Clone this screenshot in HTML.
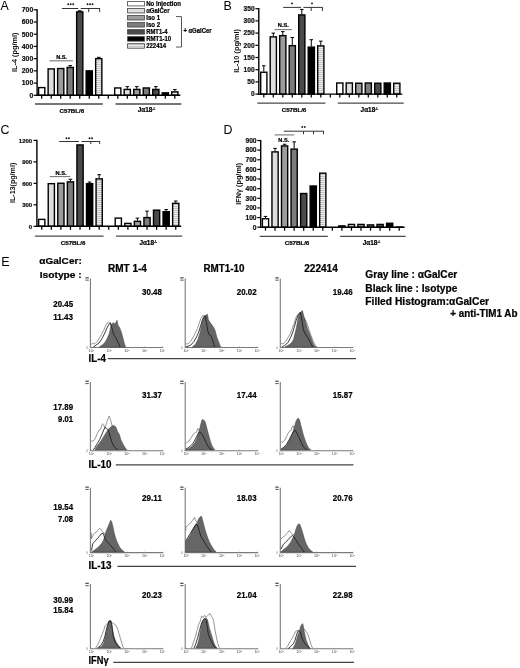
<!DOCTYPE html>
<html><head><meta charset="utf-8"><style>
html,body{margin:0;padding:0;background:#fff;width:520px;height:668px;overflow:hidden;}
svg{display:block;font-family:"Liberation Sans",sans-serif;will-change:transform;}
</style></head><body>
<svg width="520" height="668" viewBox="0 0 520 668">
<rect width="520" height="668" fill="#fff"/>
<defs><pattern id="stripe" width="4" height="2" patternUnits="userSpaceOnUse"><rect width="4" height="2" fill="#ececec"/><rect width="4" height="1" fill="#c4c4c4"/></pattern></defs>
<rect x="38.60" y="87.59" width="6.20" height="7.71" fill="#ffffff" stroke="#000" stroke-width="1.4"/>
<rect x="48.11" y="68.91" width="6.20" height="26.39" fill="#dedede" stroke="#000" stroke-width="1.4"/>
<rect x="57.62" y="68.54" width="6.20" height="26.76" fill="#9c9c9c" stroke="#000" stroke-width="1.4"/>
<line x1="70.23" y1="66.84" x2="70.23" y2="65.62" stroke="#000" stroke-width="1"/>
<line x1="68.43" y1="65.62" x2="72.03" y2="65.62" stroke="#000" stroke-width="1"/>
<rect x="67.13" y="67.44" width="6.20" height="27.86" fill="#7c7c7c" stroke="#000" stroke-width="1.4"/>
<line x1="79.74" y1="11.27" x2="79.74" y2="10.78" stroke="#000" stroke-width="1"/>
<line x1="77.94" y1="10.78" x2="81.54" y2="10.78" stroke="#000" stroke-width="1"/>
<rect x="76.64" y="11.87" width="6.20" height="83.43" fill="#4a4a4a" stroke="#000" stroke-width="1.4"/>
<rect x="86.15" y="70.86" width="6.20" height="24.44" fill="#000000" stroke="#000" stroke-width="1.4"/>
<line x1="98.76" y1="58.05" x2="98.76" y2="57.31" stroke="#000" stroke-width="1"/>
<line x1="96.96" y1="57.31" x2="100.56" y2="57.31" stroke="#000" stroke-width="1"/>
<rect x="95.66" y="58.65" width="6.20" height="36.65" fill="url(#stripe)" stroke="#000" stroke-width="1.4"/>
<rect x="114.68" y="87.96" width="6.20" height="7.34" fill="#ffffff" stroke="#000" stroke-width="1.4"/>
<line x1="127.29" y1="88.83" x2="127.29" y2="86.63" stroke="#000" stroke-width="1"/>
<line x1="125.49" y1="86.63" x2="129.09" y2="86.63" stroke="#000" stroke-width="1"/>
<rect x="124.19" y="89.43" width="6.20" height="5.87" fill="#dedede" stroke="#000" stroke-width="1.4"/>
<line x1="136.80" y1="88.83" x2="136.80" y2="86.63" stroke="#000" stroke-width="1"/>
<line x1="135.00" y1="86.63" x2="138.60" y2="86.63" stroke="#000" stroke-width="1"/>
<rect x="133.70" y="89.43" width="6.20" height="5.87" fill="#9c9c9c" stroke="#000" stroke-width="1.4"/>
<rect x="143.21" y="87.96" width="6.20" height="7.34" fill="#7c7c7c" stroke="#000" stroke-width="1.4"/>
<line x1="155.82" y1="88.83" x2="155.82" y2="86.63" stroke="#000" stroke-width="1"/>
<line x1="154.02" y1="86.63" x2="157.62" y2="86.63" stroke="#000" stroke-width="1"/>
<rect x="152.72" y="89.43" width="6.20" height="5.87" fill="#4a4a4a" stroke="#000" stroke-width="1.4"/>
<rect x="162.23" y="92.85" width="6.20" height="2.45" fill="#000000" stroke="#000" stroke-width="1.4"/>
<line x1="174.84" y1="91.27" x2="174.84" y2="89.56" stroke="#000" stroke-width="1"/>
<line x1="173.04" y1="89.56" x2="176.64" y2="89.56" stroke="#000" stroke-width="1"/>
<rect x="171.74" y="91.87" width="6.20" height="3.43" fill="url(#stripe)" stroke="#000" stroke-width="1.4"/>
<line x1="37.1" y1="9.200000000000001" x2="37.1" y2="95.89999999999999" stroke="#000" stroke-width="1.4"/>
<line x1="36.4" y1="95.3" x2="180.34" y2="95.3" stroke="#000" stroke-width="1.4"/>
<line x1="33.7" y1="95.30" x2="37.1" y2="95.30" stroke="#000" stroke-width="1.2"/>
<text x="33.2" y="97.60" font-size="6.8" font-weight="bold" text-anchor="end" fill="#111" stroke="#111" stroke-width="0.22" >0</text>
<line x1="33.7" y1="83.09" x2="37.1" y2="83.09" stroke="#000" stroke-width="1.2"/>
<text x="33.2" y="85.39" font-size="6.8" font-weight="bold" text-anchor="end" fill="#111" stroke="#111" stroke-width="0.22" >100</text>
<line x1="33.7" y1="70.87" x2="37.1" y2="70.87" stroke="#000" stroke-width="1.2"/>
<text x="33.2" y="73.17" font-size="6.8" font-weight="bold" text-anchor="end" fill="#111" stroke="#111" stroke-width="0.22" >200</text>
<line x1="33.7" y1="58.66" x2="37.1" y2="58.66" stroke="#000" stroke-width="1.2"/>
<text x="33.2" y="60.96" font-size="6.8" font-weight="bold" text-anchor="end" fill="#111" stroke="#111" stroke-width="0.22" >300</text>
<line x1="33.7" y1="46.44" x2="37.1" y2="46.44" stroke="#000" stroke-width="1.2"/>
<text x="33.2" y="48.74" font-size="6.8" font-weight="bold" text-anchor="end" fill="#111" stroke="#111" stroke-width="0.22" >400</text>
<line x1="33.7" y1="34.23" x2="37.1" y2="34.23" stroke="#000" stroke-width="1.2"/>
<text x="33.2" y="36.53" font-size="6.8" font-weight="bold" text-anchor="end" fill="#111" stroke="#111" stroke-width="0.22" >500</text>
<line x1="33.7" y1="22.01" x2="37.1" y2="22.01" stroke="#000" stroke-width="1.2"/>
<text x="33.2" y="24.31" font-size="6.8" font-weight="bold" text-anchor="end" fill="#111" stroke="#111" stroke-width="0.22" >600</text>
<line x1="33.7" y1="9.80" x2="37.1" y2="9.80" stroke="#000" stroke-width="1.2"/>
<text x="33.2" y="12.10" font-size="6.8" font-weight="bold" text-anchor="end" fill="#111" stroke="#111" stroke-width="0.22" >700</text>
<line x1="41.70" y1="95.3" x2="41.70" y2="98.8" stroke="#000" stroke-width="1.25"/>
<line x1="51.21" y1="95.3" x2="51.21" y2="98.8" stroke="#000" stroke-width="1.25"/>
<line x1="60.72" y1="95.3" x2="60.72" y2="98.8" stroke="#000" stroke-width="1.25"/>
<line x1="70.23" y1="95.3" x2="70.23" y2="98.8" stroke="#000" stroke-width="1.25"/>
<line x1="79.74" y1="95.3" x2="79.74" y2="98.8" stroke="#000" stroke-width="1.25"/>
<line x1="89.25" y1="95.3" x2="89.25" y2="98.8" stroke="#000" stroke-width="1.25"/>
<line x1="98.76" y1="95.3" x2="98.76" y2="98.8" stroke="#000" stroke-width="1.25"/>
<line x1="108.27" y1="95.3" x2="108.27" y2="98.8" stroke="#000" stroke-width="1.25"/>
<line x1="117.78" y1="95.3" x2="117.78" y2="98.8" stroke="#000" stroke-width="1.25"/>
<line x1="127.29" y1="95.3" x2="127.29" y2="98.8" stroke="#000" stroke-width="1.25"/>
<line x1="136.80" y1="95.3" x2="136.80" y2="98.8" stroke="#000" stroke-width="1.25"/>
<line x1="146.31" y1="95.3" x2="146.31" y2="98.8" stroke="#000" stroke-width="1.25"/>
<line x1="155.82" y1="95.3" x2="155.82" y2="98.8" stroke="#000" stroke-width="1.25"/>
<line x1="165.33" y1="95.3" x2="165.33" y2="98.8" stroke="#000" stroke-width="1.25"/>
<line x1="174.84" y1="95.3" x2="174.84" y2="98.8" stroke="#000" stroke-width="1.25"/>
<line x1="35" y1="104" x2="102.8" y2="104" stroke="#4a4a4a" stroke-width="1.3"/>
<line x1="115.5" y1="104" x2="181.4" y2="104" stroke="#4a4a4a" stroke-width="1.3"/>
<text x="71.9" y="112.7" font-size="6.2" font-weight="bold" text-anchor="middle" fill="#000" stroke="#000" stroke-width="0.22" textLength="24.6" lengthAdjust="spacingAndGlyphs" >C57BL/6</text>
<text x="146.6" y="111.9" font-size="6.4" font-weight="bold" text-anchor="middle" fill="#000" stroke="#000" stroke-width="0.22" >J&#945;18<tspan font-size="3.4" dy="-1.6">-/-</tspan></text>
<text transform="translate(17.1,52.3) rotate(-90)" x="0" y="0" font-size="7.2" font-weight="bold" text-anchor="middle" fill="#111" textLength="39.3" lengthAdjust="spacingAndGlyphs">IL-4 (pg/ml)</text>
<text x="0.6" y="9.8" font-size="12.4" text-anchor="start" fill="#000" >A</text>
<line x1="263.80" y1="71.65" x2="263.80" y2="65.80" stroke="#000" stroke-width="1"/>
<line x1="262.00" y1="65.80" x2="265.60" y2="65.80" stroke="#000" stroke-width="1"/>
<rect x="260.70" y="72.25" width="6.20" height="21.85" fill="#ffffff" stroke="#000" stroke-width="1.4"/>
<line x1="273.30" y1="36.27" x2="273.30" y2="33.10" stroke="#000" stroke-width="1"/>
<line x1="271.50" y1="33.10" x2="275.10" y2="33.10" stroke="#000" stroke-width="1"/>
<rect x="270.20" y="36.87" width="6.20" height="57.23" fill="#dedede" stroke="#000" stroke-width="1.4"/>
<line x1="282.80" y1="35.05" x2="282.80" y2="31.64" stroke="#000" stroke-width="1"/>
<line x1="281.00" y1="31.64" x2="284.60" y2="31.64" stroke="#000" stroke-width="1"/>
<rect x="279.70" y="35.65" width="6.20" height="58.45" fill="#9c9c9c" stroke="#000" stroke-width="1.4"/>
<line x1="292.30" y1="45.06" x2="292.30" y2="37.49" stroke="#000" stroke-width="1"/>
<line x1="290.50" y1="37.49" x2="294.10" y2="37.49" stroke="#000" stroke-width="1"/>
<rect x="289.20" y="45.66" width="6.20" height="48.44" fill="#7c7c7c" stroke="#000" stroke-width="1.4"/>
<line x1="301.80" y1="14.31" x2="301.80" y2="9.43" stroke="#000" stroke-width="1"/>
<line x1="300.00" y1="9.43" x2="303.60" y2="9.43" stroke="#000" stroke-width="1"/>
<rect x="298.70" y="14.91" width="6.20" height="79.19" fill="#4a4a4a" stroke="#000" stroke-width="1.4"/>
<line x1="311.30" y1="46.52" x2="311.30" y2="39.69" stroke="#000" stroke-width="1"/>
<line x1="309.50" y1="39.69" x2="313.10" y2="39.69" stroke="#000" stroke-width="1"/>
<rect x="308.20" y="47.12" width="6.20" height="46.98" fill="#000000" stroke="#000" stroke-width="1.4"/>
<line x1="320.80" y1="45.30" x2="320.80" y2="41.15" stroke="#000" stroke-width="1"/>
<line x1="319.00" y1="41.15" x2="322.60" y2="41.15" stroke="#000" stroke-width="1"/>
<rect x="317.70" y="45.90" width="6.20" height="48.20" fill="url(#stripe)" stroke="#000" stroke-width="1.4"/>
<rect x="336.70" y="82.99" width="6.20" height="11.11" fill="#ffffff" stroke="#000" stroke-width="1.4"/>
<rect x="346.20" y="82.99" width="6.20" height="11.11" fill="#dedede" stroke="#000" stroke-width="1.4"/>
<rect x="355.70" y="83.23" width="6.20" height="10.87" fill="#9c9c9c" stroke="#000" stroke-width="1.4"/>
<rect x="365.20" y="82.99" width="6.20" height="11.11" fill="#7c7c7c" stroke="#000" stroke-width="1.4"/>
<rect x="374.70" y="83.23" width="6.20" height="10.87" fill="#4a4a4a" stroke="#000" stroke-width="1.4"/>
<rect x="384.20" y="82.99" width="6.20" height="11.11" fill="#000000" stroke="#000" stroke-width="1.4"/>
<rect x="393.70" y="83.23" width="6.20" height="10.87" fill="url(#stripe)" stroke="#000" stroke-width="1.4"/>
<line x1="258.8" y1="8.1" x2="258.8" y2="94.69999999999999" stroke="#000" stroke-width="1.4"/>
<line x1="258.1" y1="94.1" x2="402.30" y2="94.1" stroke="#000" stroke-width="1.4"/>
<line x1="255.4" y1="94.10" x2="258.8" y2="94.10" stroke="#000" stroke-width="1.2"/>
<text x="254.6" y="96.40" font-size="6.6" font-weight="bold" text-anchor="end" fill="#111" stroke="#111" stroke-width="0.22" >0</text>
<line x1="255.4" y1="81.90" x2="258.8" y2="81.90" stroke="#000" stroke-width="1.2"/>
<text x="254.6" y="84.20" font-size="6.6" font-weight="bold" text-anchor="end" fill="#111" stroke="#111" stroke-width="0.22" >50</text>
<line x1="255.4" y1="69.70" x2="258.8" y2="69.70" stroke="#000" stroke-width="1.2"/>
<text x="254.6" y="72.00" font-size="6.6" font-weight="bold" text-anchor="end" fill="#111" stroke="#111" stroke-width="0.22" >100</text>
<line x1="255.4" y1="57.50" x2="258.8" y2="57.50" stroke="#000" stroke-width="1.2"/>
<text x="254.6" y="59.80" font-size="6.6" font-weight="bold" text-anchor="end" fill="#111" stroke="#111" stroke-width="0.22" >150</text>
<line x1="255.4" y1="45.30" x2="258.8" y2="45.30" stroke="#000" stroke-width="1.2"/>
<text x="254.6" y="47.60" font-size="6.6" font-weight="bold" text-anchor="end" fill="#111" stroke="#111" stroke-width="0.22" >200</text>
<line x1="255.4" y1="33.10" x2="258.8" y2="33.10" stroke="#000" stroke-width="1.2"/>
<text x="254.6" y="35.40" font-size="6.6" font-weight="bold" text-anchor="end" fill="#111" stroke="#111" stroke-width="0.22" >250</text>
<line x1="255.4" y1="20.90" x2="258.8" y2="20.90" stroke="#000" stroke-width="1.2"/>
<text x="254.6" y="23.20" font-size="6.6" font-weight="bold" text-anchor="end" fill="#111" stroke="#111" stroke-width="0.22" >300</text>
<line x1="255.4" y1="8.70" x2="258.8" y2="8.70" stroke="#000" stroke-width="1.2"/>
<text x="254.6" y="11.00" font-size="6.6" font-weight="bold" text-anchor="end" fill="#111" stroke="#111" stroke-width="0.22" >350</text>
<line x1="263.80" y1="94.1" x2="263.80" y2="97.6" stroke="#000" stroke-width="1.25"/>
<line x1="273.30" y1="94.1" x2="273.30" y2="97.6" stroke="#000" stroke-width="1.25"/>
<line x1="282.80" y1="94.1" x2="282.80" y2="97.6" stroke="#000" stroke-width="1.25"/>
<line x1="292.30" y1="94.1" x2="292.30" y2="97.6" stroke="#000" stroke-width="1.25"/>
<line x1="301.80" y1="94.1" x2="301.80" y2="97.6" stroke="#000" stroke-width="1.25"/>
<line x1="311.30" y1="94.1" x2="311.30" y2="97.6" stroke="#000" stroke-width="1.25"/>
<line x1="320.80" y1="94.1" x2="320.80" y2="97.6" stroke="#000" stroke-width="1.25"/>
<line x1="330.30" y1="94.1" x2="330.30" y2="97.6" stroke="#000" stroke-width="1.25"/>
<line x1="339.80" y1="94.1" x2="339.80" y2="97.6" stroke="#000" stroke-width="1.25"/>
<line x1="349.30" y1="94.1" x2="349.30" y2="97.6" stroke="#000" stroke-width="1.25"/>
<line x1="358.80" y1="94.1" x2="358.80" y2="97.6" stroke="#000" stroke-width="1.25"/>
<line x1="368.30" y1="94.1" x2="368.30" y2="97.6" stroke="#000" stroke-width="1.25"/>
<line x1="377.80" y1="94.1" x2="377.80" y2="97.6" stroke="#000" stroke-width="1.25"/>
<line x1="387.30" y1="94.1" x2="387.30" y2="97.6" stroke="#000" stroke-width="1.25"/>
<line x1="396.80" y1="94.1" x2="396.80" y2="97.6" stroke="#000" stroke-width="1.25"/>
<line x1="257.3" y1="103.1" x2="325.4" y2="103.1" stroke="#4a4a4a" stroke-width="1.3"/>
<line x1="337.7" y1="103.1" x2="403.7" y2="103.1" stroke="#4a4a4a" stroke-width="1.3"/>
<text x="294" y="112.0" font-size="6.2" font-weight="bold" text-anchor="middle" fill="#000" stroke="#000" stroke-width="0.22" textLength="24.6" lengthAdjust="spacingAndGlyphs" >C57BL/6</text>
<text x="369.5" y="111.6" font-size="6.4" font-weight="bold" text-anchor="middle" fill="#000" stroke="#000" stroke-width="0.22" >J&#945;18<tspan font-size="3.4" dy="-1.6">-/-</tspan></text>
<text transform="translate(239.4,50.9) rotate(-90)" x="0" y="0" font-size="7.2" font-weight="bold" text-anchor="middle" fill="#111" textLength="43.6" lengthAdjust="spacingAndGlyphs">IL-10 (pg/ml)</text>
<text x="223.6" y="9.8" font-size="12.4" text-anchor="start" fill="#000" >B</text>
<rect x="38.65" y="219.38" width="6.20" height="6.92" fill="#ffffff" stroke="#000" stroke-width="1.4"/>
<rect x="48.22" y="183.66" width="6.20" height="42.64" fill="#dedede" stroke="#000" stroke-width="1.4"/>
<rect x="57.79" y="183.23" width="6.20" height="43.07" fill="#9c9c9c" stroke="#000" stroke-width="1.4"/>
<line x1="70.46" y1="181.27" x2="70.46" y2="179.27" stroke="#000" stroke-width="1"/>
<line x1="68.66" y1="179.27" x2="72.26" y2="179.27" stroke="#000" stroke-width="1"/>
<rect x="67.36" y="181.87" width="6.20" height="44.43" fill="#7c7c7c" stroke="#000" stroke-width="1.4"/>
<rect x="76.93" y="144.94" width="6.20" height="81.36" fill="#4a4a4a" stroke="#000" stroke-width="1.4"/>
<line x1="89.60" y1="183.06" x2="89.60" y2="182.06" stroke="#000" stroke-width="1"/>
<line x1="87.80" y1="182.06" x2="91.40" y2="182.06" stroke="#000" stroke-width="1"/>
<rect x="86.50" y="183.66" width="6.20" height="42.64" fill="#000000" stroke="#000" stroke-width="1.4"/>
<line x1="99.17" y1="178.27" x2="99.17" y2="174.69" stroke="#000" stroke-width="1"/>
<line x1="97.37" y1="174.69" x2="100.97" y2="174.69" stroke="#000" stroke-width="1"/>
<rect x="96.07" y="178.87" width="6.20" height="47.43" fill="url(#stripe)" stroke="#000" stroke-width="1.4"/>
<rect x="115.21" y="218.10" width="6.20" height="8.20" fill="#ffffff" stroke="#000" stroke-width="1.4"/>
<rect x="124.78" y="223.39" width="6.20" height="2.91" fill="#dedede" stroke="#000" stroke-width="1.4"/>
<line x1="137.45" y1="220.72" x2="137.45" y2="218.14" stroke="#000" stroke-width="1"/>
<line x1="135.65" y1="218.14" x2="139.25" y2="218.14" stroke="#000" stroke-width="1"/>
<rect x="134.35" y="221.32" width="6.20" height="4.98" fill="#9c9c9c" stroke="#000" stroke-width="1.4"/>
<line x1="147.02" y1="216.99" x2="147.02" y2="211.12" stroke="#000" stroke-width="1"/>
<line x1="145.22" y1="211.12" x2="148.82" y2="211.12" stroke="#000" stroke-width="1"/>
<rect x="143.92" y="217.59" width="6.20" height="8.71" fill="#7c7c7c" stroke="#000" stroke-width="1.4"/>
<rect x="153.49" y="210.15" width="6.20" height="16.15" fill="#4a4a4a" stroke="#000" stroke-width="1.4"/>
<line x1="166.16" y1="211.12" x2="166.16" y2="209.55" stroke="#000" stroke-width="1"/>
<line x1="164.36" y1="209.55" x2="167.96" y2="209.55" stroke="#000" stroke-width="1"/>
<rect x="163.06" y="211.72" width="6.20" height="14.58" fill="#000000" stroke="#000" stroke-width="1.4"/>
<line x1="175.73" y1="202.75" x2="175.73" y2="201.03" stroke="#000" stroke-width="1"/>
<line x1="173.93" y1="201.03" x2="177.53" y2="201.03" stroke="#000" stroke-width="1"/>
<rect x="172.63" y="203.35" width="6.20" height="22.95" fill="url(#stripe)" stroke="#000" stroke-width="1.4"/>
<line x1="36.9" y1="139.8" x2="36.9" y2="226.9" stroke="#000" stroke-width="1.4"/>
<line x1="36.199999999999996" y1="226.3" x2="181.23" y2="226.3" stroke="#000" stroke-width="1.4"/>
<line x1="33.5" y1="226.30" x2="36.9" y2="226.30" stroke="#000" stroke-width="1.2"/>
<text x="32.2" y="228.60" font-size="6.0" font-weight="bold" text-anchor="end" fill="#111" stroke="#111" stroke-width="0.22" >0</text>
<line x1="33.5" y1="204.83" x2="36.9" y2="204.83" stroke="#000" stroke-width="1.2"/>
<text x="32.2" y="207.13" font-size="6.0" font-weight="bold" text-anchor="end" fill="#111" stroke="#111" stroke-width="0.22" >300</text>
<line x1="33.5" y1="183.35" x2="36.9" y2="183.35" stroke="#000" stroke-width="1.2"/>
<text x="32.2" y="185.65" font-size="6.0" font-weight="bold" text-anchor="end" fill="#111" stroke="#111" stroke-width="0.22" >600</text>
<line x1="33.5" y1="161.88" x2="36.9" y2="161.88" stroke="#000" stroke-width="1.2"/>
<text x="32.2" y="164.18" font-size="6.0" font-weight="bold" text-anchor="end" fill="#111" stroke="#111" stroke-width="0.22" >900</text>
<line x1="33.5" y1="140.40" x2="36.9" y2="140.40" stroke="#000" stroke-width="1.2"/>
<text x="32.2" y="142.70" font-size="6.0" font-weight="bold" text-anchor="end" fill="#111" stroke="#111" stroke-width="0.22" >1200</text>
<line x1="41.75" y1="226.3" x2="41.75" y2="229.8" stroke="#000" stroke-width="1.25"/>
<line x1="51.32" y1="226.3" x2="51.32" y2="229.8" stroke="#000" stroke-width="1.25"/>
<line x1="60.89" y1="226.3" x2="60.89" y2="229.8" stroke="#000" stroke-width="1.25"/>
<line x1="70.46" y1="226.3" x2="70.46" y2="229.8" stroke="#000" stroke-width="1.25"/>
<line x1="80.03" y1="226.3" x2="80.03" y2="229.8" stroke="#000" stroke-width="1.25"/>
<line x1="89.60" y1="226.3" x2="89.60" y2="229.8" stroke="#000" stroke-width="1.25"/>
<line x1="99.17" y1="226.3" x2="99.17" y2="229.8" stroke="#000" stroke-width="1.25"/>
<line x1="108.74" y1="226.3" x2="108.74" y2="229.8" stroke="#000" stroke-width="1.25"/>
<line x1="118.31" y1="226.3" x2="118.31" y2="229.8" stroke="#000" stroke-width="1.25"/>
<line x1="127.88" y1="226.3" x2="127.88" y2="229.8" stroke="#000" stroke-width="1.25"/>
<line x1="137.45" y1="226.3" x2="137.45" y2="229.8" stroke="#000" stroke-width="1.25"/>
<line x1="147.02" y1="226.3" x2="147.02" y2="229.8" stroke="#000" stroke-width="1.25"/>
<line x1="156.59" y1="226.3" x2="156.59" y2="229.8" stroke="#000" stroke-width="1.25"/>
<line x1="166.16" y1="226.3" x2="166.16" y2="229.8" stroke="#000" stroke-width="1.25"/>
<line x1="175.73" y1="226.3" x2="175.73" y2="229.8" stroke="#000" stroke-width="1.25"/>
<line x1="34.9" y1="236.2" x2="103.6" y2="236.2" stroke="#4a4a4a" stroke-width="1.3"/>
<line x1="116" y1="236.2" x2="182.2" y2="236.2" stroke="#4a4a4a" stroke-width="1.3"/>
<text x="73.1" y="244.9" font-size="6.2" font-weight="bold" text-anchor="middle" fill="#000" stroke="#000" stroke-width="0.22" textLength="24.6" lengthAdjust="spacingAndGlyphs" >C57BL/6</text>
<text x="148.3" y="244.5" font-size="6.4" font-weight="bold" text-anchor="middle" fill="#000" stroke="#000" stroke-width="0.22" >J&#945;18<tspan font-size="3.4" dy="-1.6">-/-</tspan></text>
<text transform="translate(15.0,182.9) rotate(-90)" x="0" y="0" font-size="7.2" font-weight="bold" text-anchor="middle" fill="#111" textLength="40.3" lengthAdjust="spacingAndGlyphs">IL-13(pg/ml)</text>
<text x="0.4" y="134.2" font-size="12.4" text-anchor="start" fill="#000" >C</text>
<line x1="265.50" y1="218.14" x2="265.50" y2="216.41" stroke="#000" stroke-width="1"/>
<line x1="263.70" y1="216.41" x2="267.30" y2="216.41" stroke="#000" stroke-width="1"/>
<rect x="262.40" y="218.74" width="6.20" height="8.46" fill="#ffffff" stroke="#000" stroke-width="1.4"/>
<line x1="275.05" y1="151.29" x2="275.05" y2="148.40" stroke="#000" stroke-width="1"/>
<line x1="273.25" y1="148.40" x2="276.85" y2="148.40" stroke="#000" stroke-width="1"/>
<rect x="271.95" y="151.89" width="6.20" height="75.31" fill="#dedede" stroke="#000" stroke-width="1.4"/>
<line x1="284.60" y1="145.32" x2="284.60" y2="144.26" stroke="#000" stroke-width="1"/>
<line x1="282.80" y1="144.26" x2="286.40" y2="144.26" stroke="#000" stroke-width="1"/>
<rect x="281.50" y="145.92" width="6.20" height="81.28" fill="#9c9c9c" stroke="#000" stroke-width="1.4"/>
<line x1="294.15" y1="148.50" x2="294.15" y2="141.85" stroke="#000" stroke-width="1"/>
<line x1="292.35" y1="141.85" x2="295.95" y2="141.85" stroke="#000" stroke-width="1"/>
<rect x="291.05" y="149.10" width="6.20" height="78.10" fill="#7c7c7c" stroke="#000" stroke-width="1.4"/>
<rect x="300.60" y="193.51" width="6.20" height="33.69" fill="#4a4a4a" stroke="#000" stroke-width="1.4"/>
<rect x="310.15" y="185.99" width="6.20" height="41.21" fill="#000000" stroke="#000" stroke-width="1.4"/>
<rect x="319.70" y="173.18" width="6.20" height="54.02" fill="url(#stripe)" stroke="#000" stroke-width="1.4"/>
<rect x="338.80" y="225.87" width="6.20" height="1.33" fill="#ffffff" stroke="#000" stroke-width="1.4"/>
<rect x="348.35" y="224.43" width="6.20" height="2.77" fill="#dedede" stroke="#000" stroke-width="1.4"/>
<rect x="357.90" y="224.43" width="6.20" height="2.77" fill="#9c9c9c" stroke="#000" stroke-width="1.4"/>
<rect x="367.45" y="224.91" width="6.20" height="2.29" fill="#7c7c7c" stroke="#000" stroke-width="1.4"/>
<rect x="377.00" y="224.43" width="6.20" height="2.77" fill="#4a4a4a" stroke="#000" stroke-width="1.4"/>
<rect x="386.55" y="223.27" width="6.20" height="3.93" fill="#000000" stroke="#000" stroke-width="1.4"/>
<rect x="396.10" y="227.03" width="6.20" height="0.17" fill="url(#stripe)" stroke="#000" stroke-width="1.4"/>
<line x1="260.7" y1="139.9" x2="260.7" y2="227.79999999999998" stroke="#000" stroke-width="1.4"/>
<line x1="260.0" y1="227.2" x2="404.70" y2="227.2" stroke="#000" stroke-width="1.4"/>
<line x1="257.3" y1="227.20" x2="260.7" y2="227.20" stroke="#000" stroke-width="1.2"/>
<text x="256.6" y="229.50" font-size="6.7" font-weight="bold" text-anchor="end" fill="#111" stroke="#111" stroke-width="0.22" >0</text>
<line x1="257.3" y1="217.57" x2="260.7" y2="217.57" stroke="#000" stroke-width="1.2"/>
<text x="256.6" y="219.87" font-size="6.7" font-weight="bold" text-anchor="end" fill="#111" stroke="#111" stroke-width="0.22" >100</text>
<line x1="257.3" y1="207.93" x2="260.7" y2="207.93" stroke="#000" stroke-width="1.2"/>
<text x="256.6" y="210.23" font-size="6.7" font-weight="bold" text-anchor="end" fill="#111" stroke="#111" stroke-width="0.22" >200</text>
<line x1="257.3" y1="198.30" x2="260.7" y2="198.30" stroke="#000" stroke-width="1.2"/>
<text x="256.6" y="200.60" font-size="6.7" font-weight="bold" text-anchor="end" fill="#111" stroke="#111" stroke-width="0.22" >300</text>
<line x1="257.3" y1="188.67" x2="260.7" y2="188.67" stroke="#000" stroke-width="1.2"/>
<text x="256.6" y="190.97" font-size="6.7" font-weight="bold" text-anchor="end" fill="#111" stroke="#111" stroke-width="0.22" >400</text>
<line x1="257.3" y1="179.03" x2="260.7" y2="179.03" stroke="#000" stroke-width="1.2"/>
<text x="256.6" y="181.33" font-size="6.7" font-weight="bold" text-anchor="end" fill="#111" stroke="#111" stroke-width="0.22" >500</text>
<line x1="257.3" y1="169.40" x2="260.7" y2="169.40" stroke="#000" stroke-width="1.2"/>
<text x="256.6" y="171.70" font-size="6.7" font-weight="bold" text-anchor="end" fill="#111" stroke="#111" stroke-width="0.22" >600</text>
<line x1="257.3" y1="159.77" x2="260.7" y2="159.77" stroke="#000" stroke-width="1.2"/>
<text x="256.6" y="162.07" font-size="6.7" font-weight="bold" text-anchor="end" fill="#111" stroke="#111" stroke-width="0.22" >700</text>
<line x1="257.3" y1="150.13" x2="260.7" y2="150.13" stroke="#000" stroke-width="1.2"/>
<text x="256.6" y="152.43" font-size="6.7" font-weight="bold" text-anchor="end" fill="#111" stroke="#111" stroke-width="0.22" >800</text>
<line x1="257.3" y1="140.50" x2="260.7" y2="140.50" stroke="#000" stroke-width="1.2"/>
<text x="256.6" y="142.80" font-size="6.7" font-weight="bold" text-anchor="end" fill="#111" stroke="#111" stroke-width="0.22" >900</text>
<line x1="265.50" y1="227.2" x2="265.50" y2="230.7" stroke="#000" stroke-width="1.25"/>
<line x1="275.05" y1="227.2" x2="275.05" y2="230.7" stroke="#000" stroke-width="1.25"/>
<line x1="284.60" y1="227.2" x2="284.60" y2="230.7" stroke="#000" stroke-width="1.25"/>
<line x1="294.15" y1="227.2" x2="294.15" y2="230.7" stroke="#000" stroke-width="1.25"/>
<line x1="303.70" y1="227.2" x2="303.70" y2="230.7" stroke="#000" stroke-width="1.25"/>
<line x1="313.25" y1="227.2" x2="313.25" y2="230.7" stroke="#000" stroke-width="1.25"/>
<line x1="322.80" y1="227.2" x2="322.80" y2="230.7" stroke="#000" stroke-width="1.25"/>
<line x1="332.35" y1="227.2" x2="332.35" y2="230.7" stroke="#000" stroke-width="1.25"/>
<line x1="341.90" y1="227.2" x2="341.90" y2="230.7" stroke="#000" stroke-width="1.25"/>
<line x1="351.45" y1="227.2" x2="351.45" y2="230.7" stroke="#000" stroke-width="1.25"/>
<line x1="361.00" y1="227.2" x2="361.00" y2="230.7" stroke="#000" stroke-width="1.25"/>
<line x1="370.55" y1="227.2" x2="370.55" y2="230.7" stroke="#000" stroke-width="1.25"/>
<line x1="380.10" y1="227.2" x2="380.10" y2="230.7" stroke="#000" stroke-width="1.25"/>
<line x1="389.65" y1="227.2" x2="389.65" y2="230.7" stroke="#000" stroke-width="1.25"/>
<line x1="399.20" y1="227.2" x2="399.20" y2="230.7" stroke="#000" stroke-width="1.25"/>
<line x1="259.7" y1="236.4" x2="327.8" y2="236.4" stroke="#4a4a4a" stroke-width="1.3"/>
<line x1="340.2" y1="236.4" x2="405.6" y2="236.4" stroke="#4a4a4a" stroke-width="1.3"/>
<text x="297" y="245.1" font-size="6.2" font-weight="bold" text-anchor="middle" fill="#000" stroke="#000" stroke-width="0.22" textLength="24.6" lengthAdjust="spacingAndGlyphs" >C57BL/6</text>
<text x="371.6" y="245" font-size="6.4" font-weight="bold" text-anchor="middle" fill="#000" stroke="#000" stroke-width="0.22" >J&#945;18<tspan font-size="3.4" dy="-1.6">-/-</tspan></text>
<text transform="translate(240.7,183.7) rotate(-90)" x="0" y="0" font-size="7.2" font-weight="bold" text-anchor="middle" fill="#111" textLength="42" lengthAdjust="spacingAndGlyphs">IFN&#947; (pg/ml)</text>
<text x="223.6" y="133.8" font-size="12.4" text-anchor="start" fill="#000" >D</text>
<line x1="61.9" y1="8.5" x2="78.3" y2="8.5" stroke="#333" stroke-width="1"/><line x1="80.7" y1="8.5" x2="100" y2="8.5" stroke="#333" stroke-width="1"/><line x1="88.7" y1="8.5" x2="88.7" y2="12.1" stroke="#333" stroke-width="1"/><line x1="99.7" y1="8.5" x2="99.7" y2="12.1" stroke="#333" stroke-width="1"/>
<circle cx="68.20" cy="4.2" r="0.95" fill="#111"/><circle cx="70.70" cy="4.2" r="0.95" fill="#111"/><circle cx="73.20" cy="4.2" r="0.95" fill="#111"/><circle cx="87.50" cy="4.2" r="0.95" fill="#111"/><circle cx="90.00" cy="4.2" r="0.95" fill="#111"/><circle cx="92.50" cy="4.2" r="0.95" fill="#111"/>
<line x1="49.4" y1="60.8" x2="72.9" y2="60.8" stroke="#777" stroke-width="1.1"/><text x="61.7" y="58.9" font-size="5.7" font-weight="bold" text-anchor="middle" fill="#000" stroke="#000" stroke-width="0.22" textLength="11" lengthAdjust="spacingAndGlyphs" >N.S.</text>
<line x1="283.2" y1="7.4" x2="301" y2="7.4" stroke="#333" stroke-width="1"/><line x1="303.5" y1="7.4" x2="322.7" y2="7.4" stroke="#333" stroke-width="1"/><line x1="311.2" y1="7.4" x2="311.2" y2="11.0" stroke="#333" stroke-width="1"/><line x1="322.4" y1="7.4" x2="322.4" y2="11.0" stroke="#333" stroke-width="1"/>
<circle cx="292.00" cy="3.4" r="0.95" fill="#111"/><circle cx="312.00" cy="3.4" r="0.95" fill="#111"/>
<line x1="274.6" y1="29.6" x2="292" y2="29.6" stroke="#777" stroke-width="1.1"/><text x="283.3" y="27.4" font-size="5.7" font-weight="bold" text-anchor="middle" fill="#000" stroke="#000" stroke-width="0.22" textLength="11" lengthAdjust="spacingAndGlyphs" >N.S.</text>
<line x1="59.2" y1="141.5" x2="78.9" y2="141.5" stroke="#333" stroke-width="1"/><line x1="81.5" y1="141.5" x2="100" y2="141.5" stroke="#333" stroke-width="1"/><line x1="90.8" y1="141.5" x2="90.8" y2="144.1" stroke="#333" stroke-width="1"/><line x1="99.7" y1="141.5" x2="99.7" y2="144.1" stroke="#333" stroke-width="1"/>
<circle cx="66.45" cy="138.3" r="0.95" fill="#111"/><circle cx="68.95" cy="138.3" r="0.95" fill="#111"/><circle cx="89.55" cy="138.3" r="0.95" fill="#111"/><circle cx="92.05" cy="138.3" r="0.95" fill="#111"/>
<line x1="49.7" y1="176.6" x2="70.2" y2="176.6" stroke="#777" stroke-width="1.1"/><text x="61.0" y="175.1" font-size="5.7" font-weight="bold" text-anchor="middle" fill="#000" stroke="#000" stroke-width="0.22" textLength="11" lengthAdjust="spacingAndGlyphs" >N.S.</text>
<line x1="283.8" y1="131.2" x2="323.8" y2="131.2" stroke="#333" stroke-width="1"/><line x1="303.5" y1="131.2" x2="303.5" y2="134.2" stroke="#333" stroke-width="1"/><line x1="313.5" y1="131.2" x2="313.5" y2="134.2" stroke="#333" stroke-width="1"/><line x1="323.5" y1="131.2" x2="323.5" y2="134.2" stroke="#333" stroke-width="1"/>
<circle cx="302.25" cy="126.9" r="0.95" fill="#111"/><circle cx="304.75" cy="126.9" r="0.95" fill="#111"/>
<line x1="274.6" y1="134.9" x2="294.2" y2="134.9" stroke="#777" stroke-width="1.1"/><text x="283.8" y="142.2" font-size="5.7" font-weight="bold" text-anchor="middle" fill="#000" stroke="#000" stroke-width="0.22" textLength="11" lengthAdjust="spacingAndGlyphs" >N.S.</text>
<rect x="127.6" y="1.40" width="16.8" height="4.5" fill="#ffffff" stroke="#444" stroke-width="0.8"/>
<text x="146.2" y="5.50" font-size="6.5" font-weight="bold" text-anchor="start" fill="#000" stroke="#000" stroke-width="0.22" textLength="34.7" lengthAdjust="spacingAndGlyphs" >No Injection</text>
<rect x="127.6" y="8.45" width="16.8" height="4.5" fill="#dedede" stroke="#444" stroke-width="0.8"/>
<text x="146.2" y="12.55" font-size="6.5" font-weight="bold" text-anchor="start" fill="#000" stroke="#000" stroke-width="0.22" textLength="23.3" lengthAdjust="spacingAndGlyphs" >&#945;GalCer</text>
<rect x="127.6" y="15.50" width="16.8" height="4.5" fill="#9c9c9c" stroke="#444" stroke-width="0.8"/>
<text x="146.2" y="19.60" font-size="6.5" font-weight="bold" text-anchor="start" fill="#000" stroke="#000" stroke-width="0.22" textLength="13.9" lengthAdjust="spacingAndGlyphs" >Iso 1</text>
<rect x="127.6" y="22.55" width="16.8" height="4.5" fill="#7c7c7c" stroke="#444" stroke-width="0.8"/>
<text x="146.2" y="26.65" font-size="6.5" font-weight="bold" text-anchor="start" fill="#000" stroke="#000" stroke-width="0.22" textLength="13.9" lengthAdjust="spacingAndGlyphs" >Iso 2</text>
<rect x="127.6" y="29.60" width="16.8" height="4.5" fill="#4a4a4a" stroke="#444" stroke-width="0.8"/>
<text x="146.2" y="33.70" font-size="6.5" font-weight="bold" text-anchor="start" fill="#000" stroke="#000" stroke-width="0.22" textLength="21.3" lengthAdjust="spacingAndGlyphs" >RMT1-4</text>
<rect x="127.6" y="36.65" width="16.8" height="4.5" fill="#000000" stroke="#444" stroke-width="0.8"/>
<text x="146.2" y="40.75" font-size="6.5" font-weight="bold" text-anchor="start" fill="#000" stroke="#000" stroke-width="0.22" textLength="25.0" lengthAdjust="spacingAndGlyphs" >RMT1-10</text>
<rect x="127.6" y="43.70" width="16.8" height="4.5" fill="url(#stripe)" stroke="#444" stroke-width="0.8"/>
<text x="146.2" y="47.80" font-size="6.5" font-weight="bold" text-anchor="start" fill="#000" stroke="#000" stroke-width="0.22" textLength="20.0" lengthAdjust="spacingAndGlyphs" >222414</text>
<polyline points="176,16.6 181.5,16.6 181.5,47 176,47" fill="none" stroke="#555" stroke-width="1"/>
<text x="183.4" y="32.9" font-size="6.3" font-weight="bold" text-anchor="start" fill="#000" stroke="#000" stroke-width="0.22" textLength="28.1" lengthAdjust="spacingAndGlyphs" >+ &#945;GalCer</text>
<line x1="90.4" y1="278.5" x2="90.4" y2="347.5" stroke="#7a7a7a" stroke-width="1.1"/>
<line x1="89.9" y1="347.5" x2="163.4" y2="347.5" stroke="#7a7a7a" stroke-width="1.1"/>
<text x="91.4" y="351.9" font-size="3.7" fill="#444" text-anchor="middle">10<tspan font-size="2.5" dy="-1.3">0</tspan></text>
<line x1="91.4" y1="346.5" x2="91.4" y2="347.5" stroke="#888" stroke-width="0.6"/>
<text x="109.2" y="351.9" font-size="3.7" fill="#444" text-anchor="middle">10<tspan font-size="2.5" dy="-1.3">1</tspan></text>
<line x1="109.2" y1="346.5" x2="109.2" y2="347.5" stroke="#888" stroke-width="0.6"/>
<text x="126.9" y="351.9" font-size="3.7" fill="#444" text-anchor="middle">10<tspan font-size="2.5" dy="-1.3">2</tspan></text>
<line x1="126.9" y1="346.5" x2="126.9" y2="347.5" stroke="#888" stroke-width="0.6"/>
<text x="144.7" y="351.9" font-size="3.7" fill="#444" text-anchor="middle">10<tspan font-size="2.5" dy="-1.3">3</tspan></text>
<line x1="144.7" y1="346.5" x2="144.7" y2="347.5" stroke="#888" stroke-width="0.6"/>
<text x="162.4" y="351.9" font-size="3.7" fill="#444" text-anchor="middle">10<tspan font-size="2.5" dy="-1.3">4</tspan></text>
<line x1="162.4" y1="346.5" x2="162.4" y2="347.5" stroke="#888" stroke-width="0.6"/>
<rect x="85.4" y="277.2" width="3.4" height="1.3" fill="#555"/>
<rect x="85.4" y="279.6" width="3.4" height="1.1" fill="#666"/>
<text x="87.2" y="348.7" font-size="3.4" fill="#777" text-anchor="middle">0</text>
<line x1="185.2" y1="278.5" x2="185.2" y2="347.5" stroke="#7a7a7a" stroke-width="1.1"/>
<line x1="184.7" y1="347.5" x2="258.2" y2="347.5" stroke="#7a7a7a" stroke-width="1.1"/>
<text x="186.2" y="351.9" font-size="3.7" fill="#444" text-anchor="middle">10<tspan font-size="2.5" dy="-1.3">0</tspan></text>
<line x1="186.2" y1="346.5" x2="186.2" y2="347.5" stroke="#888" stroke-width="0.6"/>
<text x="203.9" y="351.9" font-size="3.7" fill="#444" text-anchor="middle">10<tspan font-size="2.5" dy="-1.3">1</tspan></text>
<line x1="203.9" y1="346.5" x2="203.9" y2="347.5" stroke="#888" stroke-width="0.6"/>
<text x="221.7" y="351.9" font-size="3.7" fill="#444" text-anchor="middle">10<tspan font-size="2.5" dy="-1.3">2</tspan></text>
<line x1="221.7" y1="346.5" x2="221.7" y2="347.5" stroke="#888" stroke-width="0.6"/>
<text x="239.4" y="351.9" font-size="3.7" fill="#444" text-anchor="middle">10<tspan font-size="2.5" dy="-1.3">3</tspan></text>
<line x1="239.4" y1="346.5" x2="239.4" y2="347.5" stroke="#888" stroke-width="0.6"/>
<text x="257.2" y="351.9" font-size="3.7" fill="#444" text-anchor="middle">10<tspan font-size="2.5" dy="-1.3">4</tspan></text>
<line x1="257.2" y1="346.5" x2="257.2" y2="347.5" stroke="#888" stroke-width="0.6"/>
<rect x="180.2" y="277.2" width="3.4" height="1.3" fill="#555"/>
<rect x="180.2" y="279.6" width="3.4" height="1.1" fill="#666"/>
<text x="182.0" y="348.7" font-size="3.4" fill="#777" text-anchor="middle">0</text>
<line x1="280.3" y1="278.5" x2="280.3" y2="347.5" stroke="#7a7a7a" stroke-width="1.1"/>
<line x1="279.8" y1="347.5" x2="353.3" y2="347.5" stroke="#7a7a7a" stroke-width="1.1"/>
<text x="281.3" y="351.9" font-size="3.7" fill="#444" text-anchor="middle">10<tspan font-size="2.5" dy="-1.3">0</tspan></text>
<line x1="281.3" y1="346.5" x2="281.3" y2="347.5" stroke="#888" stroke-width="0.6"/>
<text x="299.1" y="351.9" font-size="3.7" fill="#444" text-anchor="middle">10<tspan font-size="2.5" dy="-1.3">1</tspan></text>
<line x1="299.1" y1="346.5" x2="299.1" y2="347.5" stroke="#888" stroke-width="0.6"/>
<text x="316.8" y="351.9" font-size="3.7" fill="#444" text-anchor="middle">10<tspan font-size="2.5" dy="-1.3">2</tspan></text>
<line x1="316.8" y1="346.5" x2="316.8" y2="347.5" stroke="#888" stroke-width="0.6"/>
<text x="334.6" y="351.9" font-size="3.7" fill="#444" text-anchor="middle">10<tspan font-size="2.5" dy="-1.3">3</tspan></text>
<line x1="334.6" y1="346.5" x2="334.6" y2="347.5" stroke="#888" stroke-width="0.6"/>
<text x="352.3" y="351.9" font-size="3.7" fill="#444" text-anchor="middle">10<tspan font-size="2.5" dy="-1.3">4</tspan></text>
<line x1="352.3" y1="346.5" x2="352.3" y2="347.5" stroke="#888" stroke-width="0.6"/>
<rect x="275.3" y="277.2" width="3.4" height="1.3" fill="#555"/>
<rect x="275.3" y="279.6" width="3.4" height="1.1" fill="#666"/>
<text x="277.1" y="348.7" font-size="3.4" fill="#777" text-anchor="middle">0</text>
<line x1="90.4" y1="381.9" x2="90.4" y2="450.8" stroke="#7a7a7a" stroke-width="1.1"/>
<line x1="89.9" y1="450.8" x2="163.4" y2="450.8" stroke="#7a7a7a" stroke-width="1.1"/>
<text x="91.4" y="455.2" font-size="3.7" fill="#444" text-anchor="middle">10<tspan font-size="2.5" dy="-1.3">0</tspan></text>
<line x1="91.4" y1="449.8" x2="91.4" y2="450.8" stroke="#888" stroke-width="0.6"/>
<text x="109.2" y="455.2" font-size="3.7" fill="#444" text-anchor="middle">10<tspan font-size="2.5" dy="-1.3">1</tspan></text>
<line x1="109.2" y1="449.8" x2="109.2" y2="450.8" stroke="#888" stroke-width="0.6"/>
<text x="126.9" y="455.2" font-size="3.7" fill="#444" text-anchor="middle">10<tspan font-size="2.5" dy="-1.3">2</tspan></text>
<line x1="126.9" y1="449.8" x2="126.9" y2="450.8" stroke="#888" stroke-width="0.6"/>
<text x="144.7" y="455.2" font-size="3.7" fill="#444" text-anchor="middle">10<tspan font-size="2.5" dy="-1.3">3</tspan></text>
<line x1="144.7" y1="449.8" x2="144.7" y2="450.8" stroke="#888" stroke-width="0.6"/>
<text x="162.4" y="455.2" font-size="3.7" fill="#444" text-anchor="middle">10<tspan font-size="2.5" dy="-1.3">4</tspan></text>
<line x1="162.4" y1="449.8" x2="162.4" y2="450.8" stroke="#888" stroke-width="0.6"/>
<rect x="85.4" y="380.59999999999997" width="3.4" height="1.3" fill="#555"/>
<rect x="85.4" y="383.0" width="3.4" height="1.1" fill="#666"/>
<text x="87.2" y="452.0" font-size="3.4" fill="#777" text-anchor="middle">0</text>
<line x1="185.2" y1="381.9" x2="185.2" y2="450.8" stroke="#7a7a7a" stroke-width="1.1"/>
<line x1="184.7" y1="450.8" x2="258.2" y2="450.8" stroke="#7a7a7a" stroke-width="1.1"/>
<text x="186.2" y="455.2" font-size="3.7" fill="#444" text-anchor="middle">10<tspan font-size="2.5" dy="-1.3">0</tspan></text>
<line x1="186.2" y1="449.8" x2="186.2" y2="450.8" stroke="#888" stroke-width="0.6"/>
<text x="203.9" y="455.2" font-size="3.7" fill="#444" text-anchor="middle">10<tspan font-size="2.5" dy="-1.3">1</tspan></text>
<line x1="203.9" y1="449.8" x2="203.9" y2="450.8" stroke="#888" stroke-width="0.6"/>
<text x="221.7" y="455.2" font-size="3.7" fill="#444" text-anchor="middle">10<tspan font-size="2.5" dy="-1.3">2</tspan></text>
<line x1="221.7" y1="449.8" x2="221.7" y2="450.8" stroke="#888" stroke-width="0.6"/>
<text x="239.4" y="455.2" font-size="3.7" fill="#444" text-anchor="middle">10<tspan font-size="2.5" dy="-1.3">3</tspan></text>
<line x1="239.4" y1="449.8" x2="239.4" y2="450.8" stroke="#888" stroke-width="0.6"/>
<text x="257.2" y="455.2" font-size="3.7" fill="#444" text-anchor="middle">10<tspan font-size="2.5" dy="-1.3">4</tspan></text>
<line x1="257.2" y1="449.8" x2="257.2" y2="450.8" stroke="#888" stroke-width="0.6"/>
<rect x="180.2" y="380.59999999999997" width="3.4" height="1.3" fill="#555"/>
<rect x="180.2" y="383.0" width="3.4" height="1.1" fill="#666"/>
<text x="182.0" y="452.0" font-size="3.4" fill="#777" text-anchor="middle">0</text>
<line x1="280.3" y1="381.9" x2="280.3" y2="450.8" stroke="#7a7a7a" stroke-width="1.1"/>
<line x1="279.8" y1="450.8" x2="353.3" y2="450.8" stroke="#7a7a7a" stroke-width="1.1"/>
<text x="281.3" y="455.2" font-size="3.7" fill="#444" text-anchor="middle">10<tspan font-size="2.5" dy="-1.3">0</tspan></text>
<line x1="281.3" y1="449.8" x2="281.3" y2="450.8" stroke="#888" stroke-width="0.6"/>
<text x="299.1" y="455.2" font-size="3.7" fill="#444" text-anchor="middle">10<tspan font-size="2.5" dy="-1.3">1</tspan></text>
<line x1="299.1" y1="449.8" x2="299.1" y2="450.8" stroke="#888" stroke-width="0.6"/>
<text x="316.8" y="455.2" font-size="3.7" fill="#444" text-anchor="middle">10<tspan font-size="2.5" dy="-1.3">2</tspan></text>
<line x1="316.8" y1="449.8" x2="316.8" y2="450.8" stroke="#888" stroke-width="0.6"/>
<text x="334.6" y="455.2" font-size="3.7" fill="#444" text-anchor="middle">10<tspan font-size="2.5" dy="-1.3">3</tspan></text>
<line x1="334.6" y1="449.8" x2="334.6" y2="450.8" stroke="#888" stroke-width="0.6"/>
<text x="352.3" y="455.2" font-size="3.7" fill="#444" text-anchor="middle">10<tspan font-size="2.5" dy="-1.3">4</tspan></text>
<line x1="352.3" y1="449.8" x2="352.3" y2="450.8" stroke="#888" stroke-width="0.6"/>
<rect x="275.3" y="380.59999999999997" width="3.4" height="1.3" fill="#555"/>
<rect x="275.3" y="383.0" width="3.4" height="1.1" fill="#666"/>
<text x="277.1" y="452.0" font-size="3.4" fill="#777" text-anchor="middle">0</text>
<line x1="90.4" y1="487.8" x2="90.4" y2="552.6" stroke="#7a7a7a" stroke-width="1.1"/>
<line x1="89.9" y1="552.6" x2="163.4" y2="552.6" stroke="#7a7a7a" stroke-width="1.1"/>
<text x="91.4" y="557.0" font-size="3.7" fill="#444" text-anchor="middle">10<tspan font-size="2.5" dy="-1.3">0</tspan></text>
<line x1="91.4" y1="551.6" x2="91.4" y2="552.6" stroke="#888" stroke-width="0.6"/>
<text x="109.2" y="557.0" font-size="3.7" fill="#444" text-anchor="middle">10<tspan font-size="2.5" dy="-1.3">1</tspan></text>
<line x1="109.2" y1="551.6" x2="109.2" y2="552.6" stroke="#888" stroke-width="0.6"/>
<text x="126.9" y="557.0" font-size="3.7" fill="#444" text-anchor="middle">10<tspan font-size="2.5" dy="-1.3">2</tspan></text>
<line x1="126.9" y1="551.6" x2="126.9" y2="552.6" stroke="#888" stroke-width="0.6"/>
<text x="144.7" y="557.0" font-size="3.7" fill="#444" text-anchor="middle">10<tspan font-size="2.5" dy="-1.3">3</tspan></text>
<line x1="144.7" y1="551.6" x2="144.7" y2="552.6" stroke="#888" stroke-width="0.6"/>
<text x="162.4" y="557.0" font-size="3.7" fill="#444" text-anchor="middle">10<tspan font-size="2.5" dy="-1.3">4</tspan></text>
<line x1="162.4" y1="551.6" x2="162.4" y2="552.6" stroke="#888" stroke-width="0.6"/>
<rect x="85.4" y="486.5" width="3.4" height="1.3" fill="#555"/>
<rect x="85.4" y="488.90000000000003" width="3.4" height="1.1" fill="#666"/>
<text x="87.2" y="553.8" font-size="3.4" fill="#777" text-anchor="middle">0</text>
<line x1="185.2" y1="487.8" x2="185.2" y2="552.6" stroke="#7a7a7a" stroke-width="1.1"/>
<line x1="184.7" y1="552.6" x2="258.2" y2="552.6" stroke="#7a7a7a" stroke-width="1.1"/>
<text x="186.2" y="557.0" font-size="3.7" fill="#444" text-anchor="middle">10<tspan font-size="2.5" dy="-1.3">0</tspan></text>
<line x1="186.2" y1="551.6" x2="186.2" y2="552.6" stroke="#888" stroke-width="0.6"/>
<text x="203.9" y="557.0" font-size="3.7" fill="#444" text-anchor="middle">10<tspan font-size="2.5" dy="-1.3">1</tspan></text>
<line x1="203.9" y1="551.6" x2="203.9" y2="552.6" stroke="#888" stroke-width="0.6"/>
<text x="221.7" y="557.0" font-size="3.7" fill="#444" text-anchor="middle">10<tspan font-size="2.5" dy="-1.3">2</tspan></text>
<line x1="221.7" y1="551.6" x2="221.7" y2="552.6" stroke="#888" stroke-width="0.6"/>
<text x="239.4" y="557.0" font-size="3.7" fill="#444" text-anchor="middle">10<tspan font-size="2.5" dy="-1.3">3</tspan></text>
<line x1="239.4" y1="551.6" x2="239.4" y2="552.6" stroke="#888" stroke-width="0.6"/>
<text x="257.2" y="557.0" font-size="3.7" fill="#444" text-anchor="middle">10<tspan font-size="2.5" dy="-1.3">4</tspan></text>
<line x1="257.2" y1="551.6" x2="257.2" y2="552.6" stroke="#888" stroke-width="0.6"/>
<rect x="180.2" y="486.5" width="3.4" height="1.3" fill="#555"/>
<rect x="180.2" y="488.90000000000003" width="3.4" height="1.1" fill="#666"/>
<text x="182.0" y="553.8" font-size="3.4" fill="#777" text-anchor="middle">0</text>
<line x1="280.3" y1="487.8" x2="280.3" y2="552.6" stroke="#7a7a7a" stroke-width="1.1"/>
<line x1="279.8" y1="552.6" x2="353.3" y2="552.6" stroke="#7a7a7a" stroke-width="1.1"/>
<text x="281.3" y="557.0" font-size="3.7" fill="#444" text-anchor="middle">10<tspan font-size="2.5" dy="-1.3">0</tspan></text>
<line x1="281.3" y1="551.6" x2="281.3" y2="552.6" stroke="#888" stroke-width="0.6"/>
<text x="299.1" y="557.0" font-size="3.7" fill="#444" text-anchor="middle">10<tspan font-size="2.5" dy="-1.3">1</tspan></text>
<line x1="299.1" y1="551.6" x2="299.1" y2="552.6" stroke="#888" stroke-width="0.6"/>
<text x="316.8" y="557.0" font-size="3.7" fill="#444" text-anchor="middle">10<tspan font-size="2.5" dy="-1.3">2</tspan></text>
<line x1="316.8" y1="551.6" x2="316.8" y2="552.6" stroke="#888" stroke-width="0.6"/>
<text x="334.6" y="557.0" font-size="3.7" fill="#444" text-anchor="middle">10<tspan font-size="2.5" dy="-1.3">3</tspan></text>
<line x1="334.6" y1="551.6" x2="334.6" y2="552.6" stroke="#888" stroke-width="0.6"/>
<text x="352.3" y="557.0" font-size="3.7" fill="#444" text-anchor="middle">10<tspan font-size="2.5" dy="-1.3">4</tspan></text>
<line x1="352.3" y1="551.6" x2="352.3" y2="552.6" stroke="#888" stroke-width="0.6"/>
<rect x="275.3" y="486.5" width="3.4" height="1.3" fill="#555"/>
<rect x="275.3" y="488.90000000000003" width="3.4" height="1.1" fill="#666"/>
<text x="277.1" y="553.8" font-size="3.4" fill="#777" text-anchor="middle">0</text>
<line x1="90.4" y1="584.0" x2="90.4" y2="648.8" stroke="#7a7a7a" stroke-width="1.1"/>
<line x1="89.9" y1="648.8" x2="163.4" y2="648.8" stroke="#7a7a7a" stroke-width="1.1"/>
<text x="91.4" y="653.2" font-size="3.7" fill="#444" text-anchor="middle">10<tspan font-size="2.5" dy="-1.3">0</tspan></text>
<line x1="91.4" y1="647.8" x2="91.4" y2="648.8" stroke="#888" stroke-width="0.6"/>
<text x="109.2" y="653.2" font-size="3.7" fill="#444" text-anchor="middle">10<tspan font-size="2.5" dy="-1.3">1</tspan></text>
<line x1="109.2" y1="647.8" x2="109.2" y2="648.8" stroke="#888" stroke-width="0.6"/>
<text x="126.9" y="653.2" font-size="3.7" fill="#444" text-anchor="middle">10<tspan font-size="2.5" dy="-1.3">2</tspan></text>
<line x1="126.9" y1="647.8" x2="126.9" y2="648.8" stroke="#888" stroke-width="0.6"/>
<text x="144.7" y="653.2" font-size="3.7" fill="#444" text-anchor="middle">10<tspan font-size="2.5" dy="-1.3">3</tspan></text>
<line x1="144.7" y1="647.8" x2="144.7" y2="648.8" stroke="#888" stroke-width="0.6"/>
<text x="162.4" y="653.2" font-size="3.7" fill="#444" text-anchor="middle">10<tspan font-size="2.5" dy="-1.3">4</tspan></text>
<line x1="162.4" y1="647.8" x2="162.4" y2="648.8" stroke="#888" stroke-width="0.6"/>
<rect x="85.4" y="582.7" width="3.4" height="1.3" fill="#555"/>
<rect x="85.4" y="585.1" width="3.4" height="1.1" fill="#666"/>
<text x="87.2" y="650.0" font-size="3.4" fill="#777" text-anchor="middle">0</text>
<line x1="185.2" y1="584.0" x2="185.2" y2="648.8" stroke="#7a7a7a" stroke-width="1.1"/>
<line x1="184.7" y1="648.8" x2="258.2" y2="648.8" stroke="#7a7a7a" stroke-width="1.1"/>
<text x="186.2" y="653.2" font-size="3.7" fill="#444" text-anchor="middle">10<tspan font-size="2.5" dy="-1.3">0</tspan></text>
<line x1="186.2" y1="647.8" x2="186.2" y2="648.8" stroke="#888" stroke-width="0.6"/>
<text x="203.9" y="653.2" font-size="3.7" fill="#444" text-anchor="middle">10<tspan font-size="2.5" dy="-1.3">1</tspan></text>
<line x1="203.9" y1="647.8" x2="203.9" y2="648.8" stroke="#888" stroke-width="0.6"/>
<text x="221.7" y="653.2" font-size="3.7" fill="#444" text-anchor="middle">10<tspan font-size="2.5" dy="-1.3">2</tspan></text>
<line x1="221.7" y1="647.8" x2="221.7" y2="648.8" stroke="#888" stroke-width="0.6"/>
<text x="239.4" y="653.2" font-size="3.7" fill="#444" text-anchor="middle">10<tspan font-size="2.5" dy="-1.3">3</tspan></text>
<line x1="239.4" y1="647.8" x2="239.4" y2="648.8" stroke="#888" stroke-width="0.6"/>
<text x="257.2" y="653.2" font-size="3.7" fill="#444" text-anchor="middle">10<tspan font-size="2.5" dy="-1.3">4</tspan></text>
<line x1="257.2" y1="647.8" x2="257.2" y2="648.8" stroke="#888" stroke-width="0.6"/>
<rect x="180.2" y="582.7" width="3.4" height="1.3" fill="#555"/>
<rect x="180.2" y="585.1" width="3.4" height="1.1" fill="#666"/>
<text x="182.0" y="650.0" font-size="3.4" fill="#777" text-anchor="middle">0</text>
<line x1="280.3" y1="584.0" x2="280.3" y2="648.8" stroke="#7a7a7a" stroke-width="1.1"/>
<line x1="279.8" y1="648.8" x2="353.3" y2="648.8" stroke="#7a7a7a" stroke-width="1.1"/>
<text x="281.3" y="653.2" font-size="3.7" fill="#444" text-anchor="middle">10<tspan font-size="2.5" dy="-1.3">0</tspan></text>
<line x1="281.3" y1="647.8" x2="281.3" y2="648.8" stroke="#888" stroke-width="0.6"/>
<text x="299.1" y="653.2" font-size="3.7" fill="#444" text-anchor="middle">10<tspan font-size="2.5" dy="-1.3">1</tspan></text>
<line x1="299.1" y1="647.8" x2="299.1" y2="648.8" stroke="#888" stroke-width="0.6"/>
<text x="316.8" y="653.2" font-size="3.7" fill="#444" text-anchor="middle">10<tspan font-size="2.5" dy="-1.3">2</tspan></text>
<line x1="316.8" y1="647.8" x2="316.8" y2="648.8" stroke="#888" stroke-width="0.6"/>
<text x="334.6" y="653.2" font-size="3.7" fill="#444" text-anchor="middle">10<tspan font-size="2.5" dy="-1.3">3</tspan></text>
<line x1="334.6" y1="647.8" x2="334.6" y2="648.8" stroke="#888" stroke-width="0.6"/>
<text x="352.3" y="653.2" font-size="3.7" fill="#444" text-anchor="middle">10<tspan font-size="2.5" dy="-1.3">4</tspan></text>
<line x1="352.3" y1="647.8" x2="352.3" y2="648.8" stroke="#888" stroke-width="0.6"/>
<rect x="275.3" y="582.7" width="3.4" height="1.3" fill="#555"/>
<rect x="275.3" y="585.1" width="3.4" height="1.1" fill="#666"/>
<text x="277.1" y="650.0" font-size="3.4" fill="#777" text-anchor="middle">0</text>
<polyline points="90.6,344.7 92.2,343.6 94.8,343.8 97.3,341.3 99.4,337.9 101.5,334.5 103.7,330.3 105.8,325.2 107.5,322.7 110.4,322.7 111.5,327 113,333 115,339 117,344 119,347.2" fill="none" stroke="#8a8a8a" stroke-width="0.9"/>
<polygon points="99,347.2 101.5,345.5 103.7,343.8 105.5,341.5 107,338.8 109.2,333.7 110.4,328.6 111.3,324.4 113.4,322.7 115.1,324 117,320.2 118,325.2 119.7,327.8 121.4,332 122.7,337 124,342.1 125.6,347.2" fill="#666" stroke="#444" stroke-width="0.5"/>
<polyline points="93.1,347.2 99,343 102.4,337.9 104.9,332.8 107,327.8 109.2,324 110.4,323 112.5,330.3 114.2,335.4 115.9,337.9 117.6,341.3 120.1,347.2" fill="none" stroke="#1a1a1a" stroke-width="0.85"/>
<polyline points="185.5,343.9 188.1,343.9 190.6,341.4 193.2,337.1 195.3,332.9 197.4,328.7 199.1,323.6 200.8,318.5 202.5,315.6 205,315.6 206.5,322 208,330 210,338 212,344 214,347" fill="none" stroke="#8a8a8a" stroke-width="0.9"/>
<polygon points="192.3,347 195.7,343.9 198.2,338.8 199.9,332.9 201.2,327 202.5,321.1 203.7,317.7 205.4,315.6 207.5,314.3 208.4,319.8 210.9,323.6 213.5,327 215.1,330.4 216.8,337.1 218.5,341.4 220.6,347" fill="#666" stroke="#444" stroke-width="0.5"/>
<polyline points="186,347 190.6,345.2 194,341.4 196.5,337.1 198.7,332.1 200.3,327 202,321.1 203.7,316.8 205.4,316 206.3,321.9 207.5,329.5 208.8,334.2 210.9,335.5 212.6,340.5 214.7,347" fill="none" stroke="#1a1a1a" stroke-width="0.85"/>
<polyline points="281,343.1 283.1,344 285.6,341.5 288.2,337.2 290.3,333.8 292.4,327.9 294.1,323.7 295.8,317.8 297.5,314.8 299.6,312.7 302,313 304,318 306.5,322 308.5,328 310,333 312,338 313.5,342 316,347" fill="none" stroke="#8a8a8a" stroke-width="0.9"/>
<polygon points="284.8,347 289,344.8 292,342.3 293.7,338.9 294.9,333.8 296.2,328.8 297.3,322.8 298.3,316.9 299.6,313.5 300.8,311.8 302.5,310.6 303.8,316.1 305.1,319.5 306.3,324.5 307.6,328.8 309.3,333 311,337.2 312.7,342.3 314.4,345.7 316.5,347" fill="#666" stroke="#444" stroke-width="0.5"/>
<polyline points="282,347 284.8,345.3 288.2,342.3 290.7,337.2 292.8,332.1 294.5,326.2 296.2,320.3 298.3,314.8 300.4,312.3 302.1,321.2 303.4,329.6 305.1,333.8 307.6,337.2 310.1,342.3 312.7,347" fill="none" stroke="#1a1a1a" stroke-width="0.85"/>
<polyline points="90.5,440.1 92.2,441.4 94.3,440.1 96,436.8 97.3,433.4 99,430 100.7,429.2 102.4,423.7 103.7,424.9 104.9,428.3 106.6,422.4 109.2,416 110.8,420.7 112.1,425.8 113.5,430 115,436 117,442 119,449.9" fill="none" stroke="#8a8a8a" stroke-width="0.9"/>
<polygon points="94.8,449.9 96.5,446.9 99,443.5 101.5,440.1 104.1,435.9 106.2,432.5 107.9,430 109.6,427.9 111.7,426.2 113.4,425.3 115.9,427 117.6,431.7 119.3,434.2 121,440.1 122.7,443.5 125.2,447.8 126.9,449.9" fill="#666" stroke="#444" stroke-width="0.5"/>
<polyline points="93.1,449.9 94.8,447.8 97.3,443.5 99.8,439.3 102,434.2 103.7,430 104.9,427.5 106.6,428.3 108.3,430 110,435.9 111.7,441.8 114.2,446.9 117.6,449.5" fill="none" stroke="#1a1a1a" stroke-width="0.85"/>
<polyline points="185.2,443.5 186.8,442.7 188.9,441 190.6,438.5 192.3,435.9 193.6,433.8 194.8,433 196.5,432.1 197.8,428.3 199.1,430.4 199.9,432.5" fill="none" stroke="#8a8a8a" stroke-width="0.9"/>
<polygon points="185.5,449.9 188.9,448.6 192.3,446.1 194.8,442.7 196.5,439.3 198.2,434.2 199.5,429.2 200.8,424.1 201.8,420.3 202.6,419.4 204.6,420.7 205.4,422.4 206.7,427.5 208,432.5 209.2,436.8 210.5,441.8 212.2,446.1 214.7,449.9" fill="#666" stroke="#444" stroke-width="0.5"/>
<polyline points="186,449 188.1,447.8 191.5,445.2 194,441.8 196.1,437.6 197.8,434.2 199.5,432.1 200.8,432.5 202.5,435.1 204.2,438.5 206.3,442.7 208.4,446.9 211.8,449.9" fill="none" stroke="#1a1a1a" stroke-width="0.85"/>
<polyline points="280.4,441.8 282.2,442.3 284.8,440.1 286.5,436.8 288.2,433 289.8,430.8 291.1,430.4 292.4,426.2 293.2,425.8 294.1,428.7" fill="none" stroke="#8a8a8a" stroke-width="0.9"/>
<polygon points="281,449.9 283.9,447.8 286.5,445.2 289,441 290.7,437.6 292.4,433.4 293.7,429.2 294.9,424.9 296.2,420.7 297.5,418.6 298.3,418.2 299.6,419.8 300.8,424.9 302.1,430 303.4,435.1 305.1,440.1 306.8,444.4 308.5,447.8 310.6,449.9" fill="#666" stroke="#444" stroke-width="0.5"/>
<polyline points="281,449 283.1,447.8 286.5,444.4 289,440.1 291.5,435.1 293.7,431.3 295.3,430.4 297,433.4 299.2,437.6 301.3,442.7 303.4,446.9 306.8,449.9" fill="none" stroke="#1a1a1a" stroke-width="0.85"/>
<polyline points="91.4,532.8 91.5,538.8 93.1,535 94.8,532.8 96.5,532 98.2,529.9 99.8,528.2 101.5,530.3 103.2,532.4 104.9,533.7 105.8,537.9 108.3,542.1 110.5,546 112.5,551.9" fill="none" stroke="#8a8a8a" stroke-width="0.9"/>
<polygon points="91.8,551.9 94.8,549.8 97.3,548.1 99.8,545.5 102,543 103.7,539.6 104.9,535.4 105.8,532 107,529 108.3,526.1 109.6,522.7 110.7,520.2 111.7,521.8 113,526.9 114.2,532.8 115.9,538.8 117.6,543 119.7,547.2 121.8,549.8 124.4,551.9" fill="#666" stroke="#444" stroke-width="0.5"/>
<polyline points="91.5,550.6 92.7,543.8 94.8,541.3 97.3,538.8 99.4,536.2 101.5,533.7 103.2,533.3 104.5,537.1 106.2,540.5 108.3,543 110.8,545.5 113.4,548.9 115.9,551.9" fill="none" stroke="#1a1a1a" stroke-width="0.85"/>
<polyline points="185.8,531 186,527 188.1,525.3 190.6,522.8 192.7,520.2 194.4,517.3 195.7,520.7 197,521.9" fill="none" stroke="#8a8a8a" stroke-width="0.9"/>
<polygon points="185.6,552 185.6,541.4 188.1,538.8 190.6,534.6 192.3,530.4 194,527 195.7,524.5 197.4,521.9 198.7,518.5 199.9,517.3 201.2,516 202,517.7 203.3,522.8 204.6,527.8 205.8,532.1 207.5,537.1 209.2,541.4 211.3,545.6 213.5,549 216,552" fill="#666" stroke="#444" stroke-width="0.5"/>
<polyline points="186,540.5 188.1,537.1 190.6,532.9 193.2,528.7 195.3,525.3 196.5,524 197.8,526.2 199.1,530.4 200.8,536.3 202.9,539.7 205,543.1 207.5,547.3 210.9,552" fill="none" stroke="#1a1a1a" stroke-width="0.85"/>
<polyline points="281,538.8 283.1,537.1 285.2,535.5 287.3,532.9 289.4,530.4 291.1,532.9 292.8,534.6 294.5,534.6 296,540 300,546 304,552" fill="none" stroke="#8a8a8a" stroke-width="0.9"/>
<polygon points="281,552 283.1,549.8 285.6,548.1 288.2,545.6 290.7,542.2 292.8,538 294.5,533.8 295.8,529.5 297,526.2 298.3,524 299.6,524 300.4,525.7 301.7,529.5 303,533.8 304.2,538 305.9,543.1 308,547.3 310.1,549.8 312.7,552" fill="#666" stroke="#444" stroke-width="0.5"/>
<polyline points="281,549 283.1,544.8 285.6,542.2 288.2,539.7 290.7,536.7 292.4,535.5 294.1,537.1 295.8,539.7 298.3,543.9 300.8,547.3 304.2,552" fill="none" stroke="#1a1a1a" stroke-width="0.85"/>
<polyline points="95.6,648.1 98.2,643.9 100.3,638.8 102,634.6 103.7,630.4 104.9,626.2 106.2,624.5 107.5,623.6 109.6,620.7 112.5,622.8 114.6,624 116.8,627 118,630.4 119.3,634.6 120.6,638.8 121.8,643.1 123.5,648.1" fill="none" stroke="#8a8a8a" stroke-width="0.9"/>
<polygon points="98.2,648.1 101.5,646.5 103.7,643.1 104.9,638.8 105.8,634.6 107,629.5 107.9,625.3 108.7,621.1 109.8,620.2 111.3,621.1 112.1,626.2 113,632.1 114.2,637.1 115.9,641.4 118.5,645.6 121,648.1" fill="#666" stroke="#444" stroke-width="0.5"/>
<polyline points="97.3,648.1 100.7,645.6 103.2,641.4 104.9,636.3 106.2,630.4 107.5,625.3 108.7,621.9 110.4,621.1 111.7,624.5 112.5,630.4 113.4,637.1 115.1,642.2 117.6,645.6 120.1,648.1" fill="none" stroke="#1a1a1a" stroke-width="0.85"/>
<polyline points="191.5,648.1 193.2,643.1 195.3,637.1 197,630.4 198.7,624.5 200.3,621.1 201.6,616 203.3,617.7 204.6,615.2 205.8,617.3 207.5,616 208.8,614.3 210.1,613.5 211.3,616 212.6,617.7 213.5,620.2 214.3,625.3 215.1,630.4 216.4,637.1 217.7,643.1 219.4,648.1" fill="none" stroke="#8a8a8a" stroke-width="0.9"/>
<polygon points="195.7,648.1 197.4,644.8 198.7,640.5 199.5,636.3 200.3,631.2 201.2,626.2 202,622.8 203.3,620.2 205,618.5 206.3,618.1 207.5,619.8 208.4,623.6 209.6,628.7 210.9,632.9 212.2,637.1 213.5,641.4 215.1,645.6 216.8,648.1" fill="#666" stroke="#444" stroke-width="0.5"/>
<polyline points="194,648.1 196.1,643.1 197.8,637.1 199.5,630.4 201.2,624.5 202.9,620.2 204.6,618.5 206.3,620.2 207.5,628.7 208.4,634.6 210.1,638.8 212.2,643.1 214.3,646.5 216.8,648.1" fill="none" stroke="#1a1a1a" stroke-width="0.85"/>
<polyline points="285.2,648.6 287.3,646.5 289,643.9 290.7,640.5 292.4,638 294.1,634.6 295.8,631.2 297.5,630.4 299.2,631.2 301.3,629.5 303.8,628.7 305.9,631.2 307.6,633.8 308.9,637.1 310.1,641.4 311.4,645.6 312.7,648.6" fill="none" stroke="#8a8a8a" stroke-width="0.9"/>
<polygon points="292.8,648.6 294.5,645.6 295.8,642.2 297,638 298.3,633.8 299.6,630.4 300.4,627 301.7,624.5 302.7,623.6 303.4,626.2 304.2,631.2 305.1,635.5 306.3,640.5 308,644.8 310.1,648.6" fill="#666" stroke="#444" stroke-width="0.5"/>
<polyline points="288.2,648.6 290.7,646.5 293.2,643.9 294.9,640.5 296.2,636.3 297.5,632.1 298.7,630.4 300.4,632.1 301.7,637.1 303,640.5 305.1,643.9 307.6,646.5 310.1,648.6" fill="none" stroke="#1a1a1a" stroke-width="0.85"/>
<text x="88.5" y="362.1" font-size="10.4" font-weight="bold" text-anchor="start" fill="#000" stroke="#000" stroke-width="0.22" textLength="17.3" lengthAdjust="spacingAndGlyphs" >IL-4</text>
<line x1="107.9" y1="358.7" x2="356.0" y2="358.7" stroke="#444" stroke-width="1.2"/>
<text x="88.5" y="467.7" font-size="10.4" font-weight="bold" text-anchor="start" fill="#000" stroke="#000" stroke-width="0.22" textLength="23.0" lengthAdjust="spacingAndGlyphs" >IL-10</text>
<line x1="115.8" y1="464.9" x2="353.5" y2="464.9" stroke="#444" stroke-width="1.2"/>
<text x="88.5" y="568.9" font-size="10.4" font-weight="bold" text-anchor="start" fill="#000" stroke="#000" stroke-width="0.22" textLength="23.0" lengthAdjust="spacingAndGlyphs" >IL-13</text>
<line x1="117.5" y1="566.3" x2="356.0" y2="566.3" stroke="#444" stroke-width="1.2"/>
<text x="88.5" y="664.2" font-size="10.4" font-weight="bold" text-anchor="start" fill="#000" stroke="#000" stroke-width="0.22" textLength="20.1" lengthAdjust="spacingAndGlyphs" >IFN&#947;</text>
<line x1="113.2" y1="662.3" x2="354.1" y2="662.3" stroke="#444" stroke-width="1.2"/>
<text x="107.9" y="271.9" font-size="10.4" font-weight="bold" text-anchor="start" fill="#000" stroke="#000" stroke-width="0.22" textLength="39" lengthAdjust="spacingAndGlyphs" >RMT 1-4</text>
<text x="203.5" y="271.9" font-size="10.4" font-weight="bold" text-anchor="start" fill="#000" stroke="#000" stroke-width="0.22" textLength="41.1" lengthAdjust="spacingAndGlyphs" >RMT1-10</text>
<text x="304.2" y="272.1" font-size="10.4" font-weight="bold" text-anchor="start" fill="#000" stroke="#000" stroke-width="0.22" textLength="33.6" lengthAdjust="spacingAndGlyphs" >222414</text>
<text x="161.9" y="294.9" font-size="9.0" font-weight="bold" text-anchor="end" fill="#000" stroke="#000" stroke-width="0.22" textLength="19.8" lengthAdjust="spacingAndGlyphs" >30.48</text>
<text x="256.6" y="294.9" font-size="9.0" font-weight="bold" text-anchor="end" fill="#000" stroke="#000" stroke-width="0.22" textLength="19.8" lengthAdjust="spacingAndGlyphs" >20.02</text>
<text x="352.6" y="294.9" font-size="9.0" font-weight="bold" text-anchor="end" fill="#000" stroke="#000" stroke-width="0.22" textLength="19.8" lengthAdjust="spacingAndGlyphs" >19.46</text>
<text x="73.1" y="306.5" font-size="9.0" font-weight="bold" text-anchor="end" fill="#000" stroke="#000" stroke-width="0.22" textLength="19.8" lengthAdjust="spacingAndGlyphs" >20.45</text>
<text x="73.1" y="320.0" font-size="9.0" font-weight="bold" text-anchor="end" fill="#000" stroke="#000" stroke-width="0.22" textLength="19.8" lengthAdjust="spacingAndGlyphs" >11.43</text>
<text x="161.9" y="398.2" font-size="9.0" font-weight="bold" text-anchor="end" fill="#000" stroke="#000" stroke-width="0.22" textLength="19.8" lengthAdjust="spacingAndGlyphs" >31.37</text>
<text x="256.6" y="398.2" font-size="9.0" font-weight="bold" text-anchor="end" fill="#000" stroke="#000" stroke-width="0.22" textLength="19.8" lengthAdjust="spacingAndGlyphs" >17.44</text>
<text x="352.6" y="398.2" font-size="9.0" font-weight="bold" text-anchor="end" fill="#000" stroke="#000" stroke-width="0.22" textLength="19.8" lengthAdjust="spacingAndGlyphs" >15.87</text>
<text x="73.1" y="409.9" font-size="9.0" font-weight="bold" text-anchor="end" fill="#000" stroke="#000" stroke-width="0.22" textLength="19.8" lengthAdjust="spacingAndGlyphs" >17.89</text>
<text x="73.1" y="421.7" font-size="9.0" font-weight="bold" text-anchor="end" fill="#000" stroke="#000" stroke-width="0.22" textLength="15" lengthAdjust="spacingAndGlyphs" >9.01</text>
<text x="161.9" y="500.7" font-size="9.0" font-weight="bold" text-anchor="end" fill="#000" stroke="#000" stroke-width="0.22" textLength="19.8" lengthAdjust="spacingAndGlyphs" >29.11</text>
<text x="256.6" y="500.7" font-size="9.0" font-weight="bold" text-anchor="end" fill="#000" stroke="#000" stroke-width="0.22" textLength="19.8" lengthAdjust="spacingAndGlyphs" >18.03</text>
<text x="352.6" y="500.7" font-size="9.0" font-weight="bold" text-anchor="end" fill="#000" stroke="#000" stroke-width="0.22" textLength="19.8" lengthAdjust="spacingAndGlyphs" >20.76</text>
<text x="73.1" y="509.9" font-size="9.0" font-weight="bold" text-anchor="end" fill="#000" stroke="#000" stroke-width="0.22" textLength="19.8" lengthAdjust="spacingAndGlyphs" >19.54</text>
<text x="73.1" y="521.7" font-size="9.0" font-weight="bold" text-anchor="end" fill="#000" stroke="#000" stroke-width="0.22" textLength="15" lengthAdjust="spacingAndGlyphs" >7.08</text>
<text x="161.9" y="598.2" font-size="9.0" font-weight="bold" text-anchor="end" fill="#000" stroke="#000" stroke-width="0.22" textLength="19.8" lengthAdjust="spacingAndGlyphs" >20.23</text>
<text x="256.6" y="598.2" font-size="9.0" font-weight="bold" text-anchor="end" fill="#000" stroke="#000" stroke-width="0.22" textLength="19.8" lengthAdjust="spacingAndGlyphs" >21.04</text>
<text x="352.6" y="598.2" font-size="9.0" font-weight="bold" text-anchor="end" fill="#000" stroke="#000" stroke-width="0.22" textLength="19.8" lengthAdjust="spacingAndGlyphs" >22.98</text>
<text x="73.1" y="603.1" font-size="9.0" font-weight="bold" text-anchor="end" fill="#000" stroke="#000" stroke-width="0.22" textLength="19.8" lengthAdjust="spacingAndGlyphs" >30.99</text>
<text x="73.1" y="613.3" font-size="9.0" font-weight="bold" text-anchor="end" fill="#000" stroke="#000" stroke-width="0.22" textLength="19.8" lengthAdjust="spacingAndGlyphs" >15.84</text>
<text x="1.2" y="265.8" font-size="12.6" text-anchor="start" fill="#000" >E</text>
<text x="39.2" y="264.1" font-size="9.9" font-weight="bold" text-anchor="start" fill="#000" stroke="#000" stroke-width="0.22" textLength="42.6" lengthAdjust="spacingAndGlyphs" >&#945;GalCer:</text>
<text x="39.7" y="277.6" font-size="9.9" font-weight="bold" text-anchor="start" fill="#000" stroke="#000" stroke-width="0.22" textLength="42.1" lengthAdjust="spacingAndGlyphs" >Isotype :</text>
<text x="365.3" y="278.3" font-size="10.0" font-weight="bold" text-anchor="start" fill="#000" stroke="#000" stroke-width="0.22" textLength="92" lengthAdjust="spacingAndGlyphs" >Gray line : &#945;GalCer</text>
<text x="365.3" y="292.1" font-size="10.0" font-weight="bold" text-anchor="start" fill="#000" stroke="#000" stroke-width="0.22" textLength="92" lengthAdjust="spacingAndGlyphs" >Black line : Isotype</text>
<text x="365.3" y="304.6" font-size="10.0" font-weight="bold" text-anchor="start" fill="#000" stroke="#000" stroke-width="0.22" textLength="123.8" lengthAdjust="spacingAndGlyphs" >Filled Histogram:&#945;GalCer</text>
<text x="450.2" y="317.3" font-size="10.0" font-weight="bold" text-anchor="start" fill="#000" stroke="#000" stroke-width="0.22" textLength="67.3" lengthAdjust="spacingAndGlyphs" >+ anti-TIM1 Ab</text>
</svg>
</body></html>
